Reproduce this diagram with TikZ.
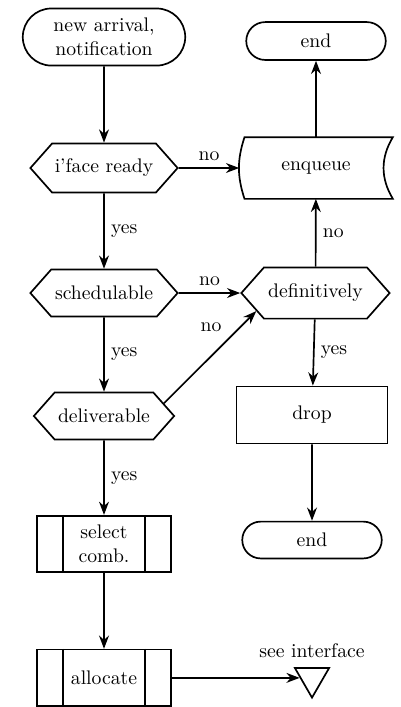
\documentclass[tikz,border=0pt]{standalone}
\usetikzlibrary{arrows.meta, shapes.misc, shapes.symbols, shapes.geometric}

\begin{document}
\begin{tikzpicture}[>=Stealth, line width=0.9pt, font=\fontsize{10.5}{12.6}\selectfont,
    terminal/.style={draw, rounded rectangle, minimum width=2.85cm, minimum height=0.71cm, align=center},
    decision/.style={draw, signal, signal to=west and east, signal pointer angle=97,
      minimum width=2.76cm, minimum height=0.92cm, inner xsep=0pt},
    process/.style={draw, rectangle, minimum width=2.83cm, minimum height=1.07cm},
    predef/.style={draw, rectangle, minimum width=2.5cm, minimum height=1.06cm, align=center},
    connector/.style={draw, regular polygon, regular polygon sides=3, shape border rotate=180,
      minimum size=0.74cm, inner sep=0pt}]
	\def\inset{0.5cm} % side bars of predefined processes

	\useasboundingbox (0,0) rectangle (7.5,-13.256);

	% Left column
	\node[terminal, minimum width=3.28cm, minimum height=1.07cm] (start) at (1.95,-0.694) {new arrival,\\notification};
	\node[decision] (ready) at (1.95,-3.15) {i'face ready};
	\node[decision, minimum height=0.88cm] (sched) at (1.95,-5.494) {schedulable};
	\node[decision, minimum width=2.63cm, minimum height=0.88cm] (deliv) at (1.95,-7.8) {deliverable};
	\node[predef] (select) at (1.95,-10.2) {select\\comb.};
	\node[predef] (alloc) at (1.95,-12.71) {allocate};
	\node[connector, label={[label distance=1pt]above:see interface}] (iface) at (5.85,-12.71) {};

	\foreach \n in {select, alloc} {
		\draw ([xshift=\inset]\n.north west) -- ([xshift=\inset]\n.south west);
		\draw ([xshift=-\inset]\n.north east) -- ([xshift=-\inset]\n.south east);
	}

	% Right column
	\node[terminal] (endA) at (5.925,-0.769) {end};
	\node[minimum width=2.85cm, minimum height=1.125cm] (enq) at (5.925,-3.15) {enqueue};
	\node[decision, minimum width=2.78cm, minimum height=0.96cm] (def) at (5.915,-5.494) {definitively};
	\node[process] (drop) at (5.85,-7.78) {drop};
	\node[terminal, minimum height=0.69cm] (endB) at (5.85,-10.125) {end};

	% stored data outline
	\draw ([xshift=0.1cm]enq.south west) to[bend left=18] ([xshift=0.1cm]enq.north west)
		-- (enq.north east) to[bend right=31] (enq.south east) -- cycle;

	% Flow
	\draw[->] (start) -- (ready);
	\draw[->] (ready) -- node[right] {yes} (sched);
	\draw[->] (sched) -- node[right] {yes} (deliv);
	\draw[->] (deliv) -- node[right] {yes} (select);
	\draw[->] (select) -- (alloc);
	\draw[->] (alloc) -- (iface);

	\draw[->] (ready) -- node[above] {no} (enq);
	\draw[->] (enq) -- (endA);
	\draw[->] (sched) -- node[above] {no} (def);
	\draw[->] (deliv.12) -- node[pos=0.7, above left] {no} (def.197);
	\draw[->] (def) -- node[right] {no} (enq);
	\draw[->] (def) -- node[right] {yes} (drop);
	\draw[->] (drop) -- (endB);

\end{tikzpicture}
\end{document}
